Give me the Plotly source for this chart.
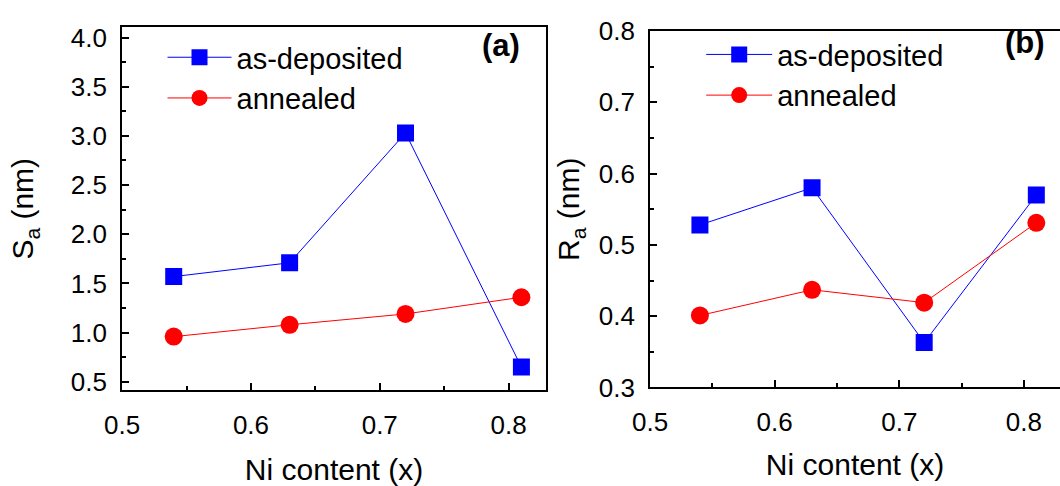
import plotly.graph_objects as go

# ---- data ----
ni_content = [0.54, 0.63, 0.72, 0.81]
sa_as_deposited = [1.57, 1.71, 3.03, 0.65]
sa_annealed = [0.96, 1.08, 1.19, 1.36]
ra_as_deposited = [0.528, 0.580, 0.363, 0.570]
ra_annealed = [0.401, 0.437, 0.419, 0.531]

x_tick_vals = [0.5, 0.6, 0.7, 0.8]
x_tick_text = ["0.5", "0.6", "0.7", "0.8"]
sa_tick_vals = [0.5, 1.0, 1.5, 2.0, 2.5, 3.0, 3.5, 4.0]
sa_tick_text = ["0.5", "1.0", "1.5", "2.0", "2.5", "3.0", "3.5", "4.0"]
ra_tick_vals = [0.3, 0.4, 0.5, 0.6, 0.7, 0.8]
ra_tick_text = ["0.3", "0.4", "0.5", "0.6", "0.7", "0.8"]

FONT = "Liberation Sans, Arial, sans-serif"
BLUE = "#0000FF"
RED = "#FF0000"

fig = go.Figure()

def add_pair(xa, ya, y_dep, y_ann, legend):
    fig.add_trace(go.Scatter(
        x=ni_content, y=y_dep, mode="lines+markers", name="as-deposited",
        xaxis=xa, yaxis=ya, legend=legend,
        line=dict(color=BLUE, width=1),
        marker=dict(symbol="square", size=17, color=BLUE),
    ))
    fig.add_trace(go.Scatter(
        x=ni_content, y=y_ann, mode="lines+markers", name="annealed",
        xaxis=xa, yaxis=ya, legend=legend,
        line=dict(color=RED, width=1),
        marker=dict(symbol="circle", size=18, color=RED),
    ))

add_pair("x", "y", sa_as_deposited, sa_annealed, "legend")
add_pair("x2", "y2", ra_as_deposited, ra_annealed, "legend2")

axis_common = dict(
    showgrid=False, zeroline=False, showline=True, linecolor="black", linewidth=2,
    ticks="inside", ticklen=7, tickwidth=1.5, tickcolor="black",
    tickfont=dict(family=FONT, size=26, color="black"),
)
minor_common = dict(ticks="inside", ticklen=4, tickwidth=1.5, tickcolor="black")
title_font = dict(family=FONT, size=30, color="black")
legend_font = dict(family=FONT, size=29, color="black")

fig.update_layout(
    width=1060, height=486,
    margin=dict(l=0, r=0, t=0, b=0),
    paper_bgcolor="white", plot_bgcolor="white",
    font=dict(family=FONT, color="black"),
    xaxis=dict(
        domain=[106/1060, 537/1060], range=[0.5, 0.829], mirror=True,
        tickvals=x_tick_vals, ticktext=x_tick_text, ticklabelstandoff=10,
        minor=dict(dtick=0.05, tick0=0.5, **minor_common),
        title=dict(text="Ni content (x)", font=title_font, standoff=22),
        anchor="y", **axis_common,
    ),
    yaxis=dict(
        domain=[(486-400)/486, (486-13)/486], range=[0.414, 4.105], mirror=True,
        tickvals=sa_tick_vals, ticktext=sa_tick_text, ticklabelstandoff=8,
        minor=dict(dtick=0.25, tick0=0.5, **minor_common),
        title=dict(text="S<sub>a</sub> (nm)", font=title_font, standoff=28),
        anchor="x", **axis_common,
    ),
    xaxis2=dict(
        domain=[643/1060, 1.0], range=[0.5, 0.829], mirror=True,
        tickvals=x_tick_vals, ticktext=x_tick_text, ticklabelstandoff=10,
        minor=dict(dtick=0.05, tick0=0.5, **minor_common),
        title=dict(text="Ni content (x)", font=title_font, standoff=18),
        anchor="y2", **axis_common,
    ),
    yaxis2=dict(
        domain=[(486-397)/486, (486-17)/486], range=[0.3, 0.8], mirror=False,
        tickvals=ra_tick_vals, ticktext=ra_tick_text, ticklabelstandoff=8,
        minor=dict(dtick=0.05, tick0=0.3, **minor_common),
        title=dict(text="R<sub>a</sub> (nm)", font=title_font, standoff=10),
        anchor="x2", **axis_common,
    ),
    legend=dict(
        x=147/1060, y=1-18/486, xanchor="left", yanchor="top",
        bgcolor="rgba(0,0,0,0)", borderwidth=0, itemwidth=64,
        font=legend_font,
    ),
    legend2=dict(
        x=695/1060, y=1-15/486, xanchor="left", yanchor="top",
        bgcolor="rgba(0,0,0,0)", borderwidth=0, itemwidth=66,
        font=legend_font,
    ),
    annotations=[
        dict(text="<b>(a)</b>", x=491/1060, y=1-33/486, xref="paper", yref="paper",
             xanchor="center", yanchor="middle",
             showarrow=False, font=dict(family=FONT, size=31, color="black")),
        dict(text="<b>(b)</b>", x=1024/1060, y=1-29/486, xref="paper", yref="paper",
             xanchor="center", yanchor="middle",
             showarrow=False, font=dict(family=FONT, size=31, color="black")),
    ],
)

fig.write_html("out.html")
